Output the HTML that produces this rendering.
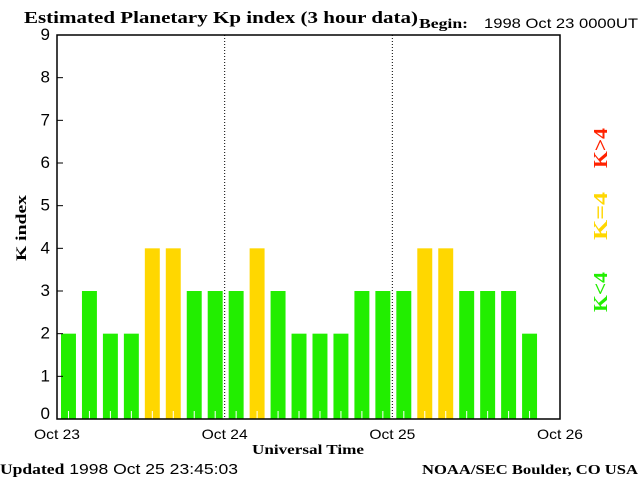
<!DOCTYPE html>
<html><head><meta charset="utf-8"><style>
body{margin:0;background:#fff;}
svg text{font-family:"Liberation Sans",sans-serif;}
.serif{font-family:"Liberation Serif",serif;font-weight:bold;}
</style></head><body>
<svg id="chart" width="640" height="480" xmlns="http://www.w3.org/2000/svg">
<text class="serif" x="24" y="23" font-size="17" textLength="394" lengthAdjust="spacingAndGlyphs">Estimated Planetary Kp index (3 hour data)</text>
<text class="serif" x="419" y="28" font-size="14" textLength="49" lengthAdjust="spacingAndGlyphs">Begin:</text>
<text x="484" y="28" font-size="14" textLength="154" lengthAdjust="spacingAndGlyphs">1998 Oct 23 0000UT</text>
<g id="bars"></g>
<g id="yaxis"></g>
<g id="xaxis"></g>
<rect x="57" y="35" width="503" height="384" fill="none" stroke="#000" stroke-width="1.5"/>
<text class="serif" x="26" y="228" font-size="15" text-anchor="middle" textLength="66" lengthAdjust="spacingAndGlyphs" transform="rotate(-90 26 228)">K index</text>
<text class="serif" x="308" y="454" font-size="14" text-anchor="middle" textLength="112" lengthAdjust="spacingAndGlyphs">Universal Time</text>
<text x="0" y="474" font-size="15" textLength="238" lengthAdjust="spacingAndGlyphs"><tspan class="serif">Updated</tspan> 1998 Oct 25 23:45:03</text>
<text class="serif" x="422" y="474" font-size="14" textLength="216" lengthAdjust="spacingAndGlyphs">NOAA/SEC Boulder, CO USA</text>
<text class="serif" x="607" y="148" font-size="20" fill="#ff2200" text-anchor="middle" textLength="40" lengthAdjust="spacingAndGlyphs" transform="rotate(-90 607 148)">K&gt;4</text>
<text class="serif" x="607" y="216" font-size="20" fill="#ffd700" text-anchor="middle" textLength="48" lengthAdjust="spacingAndGlyphs" transform="rotate(-90 607 216)">K=4</text>
<text class="serif" x="607" y="292" font-size="20" fill="#22ee00" text-anchor="middle" textLength="40" lengthAdjust="spacingAndGlyphs" transform="rotate(-90 607 292)">K&lt;4</text>
</svg>
<script>
const kpValues = [2,3,2,2,4,4,3,3, 3,4,3,2,2,2,3,3, 3,4,4,3,3,3,2];
const yTicks = [0,1,2,3,4,5,6,7,8,9];
const dayLabels = ["Oct 23","Oct 24","Oct 25","Oct 26"];
const NS="http://www.w3.org/2000/svg";
const x0=57,x1=560,y0=419,yTop=35;
const xScale=i=>x0+(x1-x0)*i/24;
const yScale=v=>y0-(y0-yTop)*v/9;
function mk(t,a){const e=document.createElementNS(NS,t);for(const k in a)e.setAttribute(k,a[k]);return e;}
const bars=document.getElementById('bars');
kpValues.forEach((v,i)=>{
  const col=v>4?'#ff2200':(v===4?'#ffd700':'#22ee00');
  const bx=xScale(i)+4,bw=(x1-x0)/24-6;
  const r=mk('rect',{x:bx,y:yScale(v),width:bw,height:y0-yScale(v),fill:col});
  
  
  bars.appendChild(r);
  const t=mk('line',{x1:bx+bw/2,x2:bx+bw/2,y1:y0-8,y2:y0,stroke:'#fff'});
  
  
  bars.appendChild(t);
});
const ya=document.getElementById('yaxis');
yTicks.forEach(v=>{
  const y=yScale(v);
  const l=mk('line',{x1:x0,x2:x0+6,y1:y,y2:y,stroke:'#000'});
  
  
  ya.appendChild(l);
  const t=mk('text',{x:50,y:Math.min(y+6,420)-1,'font-size':17,'text-anchor':'end'});
  t.textContent=v;
  
  
  ya.appendChild(t);
});
const xa=document.getElementById('xaxis');
dayLabels.forEach((d,i)=>{
  const x=xScale(i*8);
  if(i>0&&i<3){
    const l=mk('line',{x1:x,x2:x,y1:yTop,y2:y0,stroke:'#000','stroke-dasharray':'1 2'});
    
    
    xa.appendChild(l);
  }
  const t=mk('text',{x:x,y:439,'font-size':14,'text-anchor':'middle',textLength:46,lengthAdjust:'spacingAndGlyphs'});
  t.textContent=d;
  
  
  xa.appendChild(t);
});
</script>
</body></html>
